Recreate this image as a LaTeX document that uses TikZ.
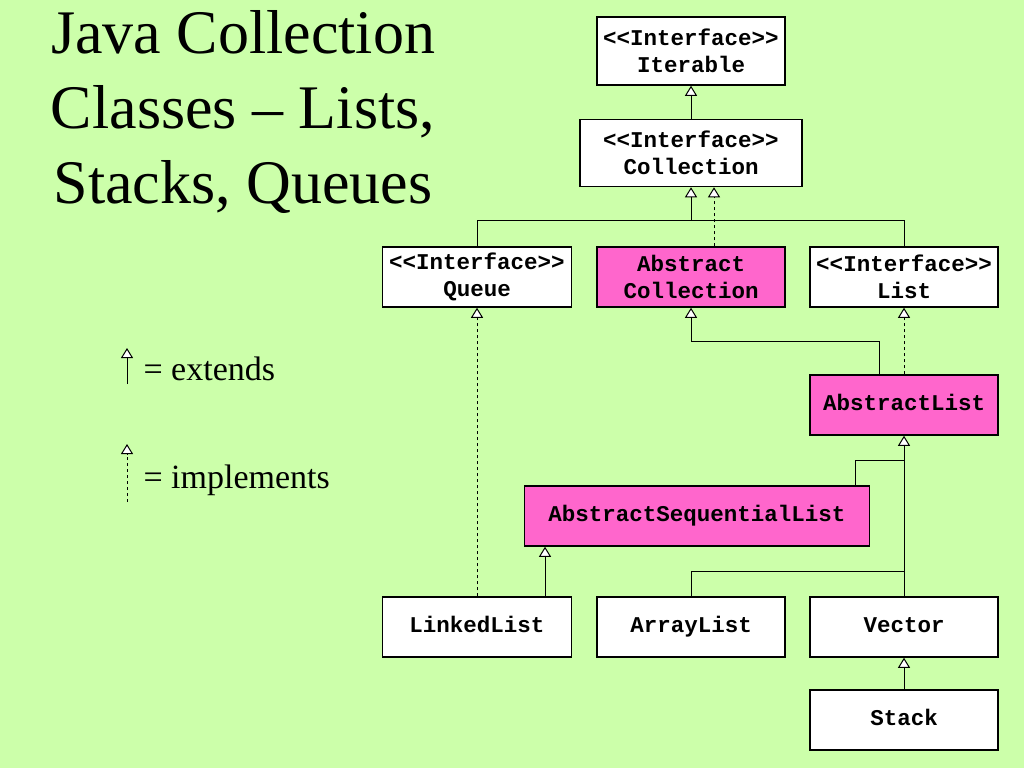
\documentclass[tikz,border=0pt]{standalone}
\usepackage{fontspec}
\setmainfont{Liberation Serif}
\setmonofont{Liberation Mono}
\usetikzlibrary{arrows.meta}
\definecolor{bg}{RGB}{204,255,170}
\definecolor{pk}{RGB}{255,102,204}
\begin{document}
\begin{tikzpicture}[x=1pt,y=-1pt,
  box/.style={draw=black,line width=1.5pt,fill=white,inner sep=0pt,align=center,
    font=\fontsize{22.5}{27}\selectfont\ttfamily\bfseries},
  abs/.style={box,fill=pk},
  ext/.style={-{Triangle[fill=white,width=12pt,length=10pt,line width=1pt]},line width=1pt},
  imp/.style={ext,dash pattern=on 3pt off 3pt}]
\fill[bg] (0,0) rectangle (1024,768);
\useasboundingbox (0,0) rectangle (1024,768);
\node[font=\fontsize{62}{75}\selectfont,align=center] (title) at (243,112) {Java Collection\\Classes -- Lists,\\Stacks, Queues};
% boxes
\node[box,minimum width=188pt,minimum height=68pt] (iter) at (691,51) {<<Interface>>\\Iterable};
\node[box,minimum width=222pt,minimum height=67pt] (coll) at (691,153) {<<Interface>>\\Collection};
\node[box,minimum width=189pt,minimum height=60pt] (queue) at (477,277) {<<Interface>>\\Queue};
\node[abs,minimum width=188pt,minimum height=60pt] (acoll) at (691,277) {Abstract\\Collection};
\node[box,minimum width=188pt,minimum height=60pt] (list) at (904,277) {<<Interface>>\\List};
\node[abs,minimum width=188pt,minimum height=60pt,text height=16pt,text depth=5pt] (alist) at (904,405) {AbstractList};
\node[abs,minimum width=345pt,minimum height=60pt,text height=16pt,text depth=5pt] (aseq) at (697,516) {AbstractSequentialList};
\node[box,minimum width=189pt,minimum height=60pt,text height=16pt,text depth=5pt] (linked) at (477,627) {LinkedList};
\node[box,minimum width=188pt,minimum height=60pt,text height=16pt,text depth=5pt] (array) at (691,627) {ArrayList};
\node[box,minimum width=188pt,minimum height=60pt,text height=16pt,text depth=5pt] (vector) at (904,627) {Vector};
\node[box,minimum width=188pt,minimum height=60pt,text height=16pt,text depth=5pt] (stack) at (904,720) {Stack};
% connectors
\draw[ext] (coll.north) -- (iter.south);
\draw[line width=1pt] (queue.north) |- (691,220);
\draw[line width=1pt] (list.north) |- (691,220);
\draw[ext] (691,220) -- (coll.south);
\draw[imp] (acoll.north -| 714,0) -- (coll.south -| 714,0);
\draw[imp] (linked.north) -- (queue.south);
\draw[ext] (alist.north -| 879,0) |- (691,341) -- (acoll.south);
\draw[imp] (alist.north) -- (list.south);
\draw[line width=1pt] (aseq.north -| 855,0) |- (904,460);
\draw[line width=1pt] (array.north) |- (904,571);
\draw[ext] (vector.north) -- (alist.south);
\draw[ext] (linked.north -| 545,0) -- (aseq.south -| 545,0);
\draw[ext] (stack.north) -- (vector.south);
% legend
\coordinate (l1a) at (127,384); \coordinate (l1b) at (127,348);
\draw[ext] (l1a) -- (l1b);
\node[anchor=west,font=\fontsize{34}{40}\selectfont] (l1) at (140,369) {= extends};
\coordinate (l2a) at (127,502); \coordinate (l2b) at (127,444);
\draw[imp] (l2a) -- (l2b);
\node[anchor=west,font=\fontsize{34}{40}\selectfont] (l2) at (140,480) {= implements};
\end{tikzpicture}
\end{document}
